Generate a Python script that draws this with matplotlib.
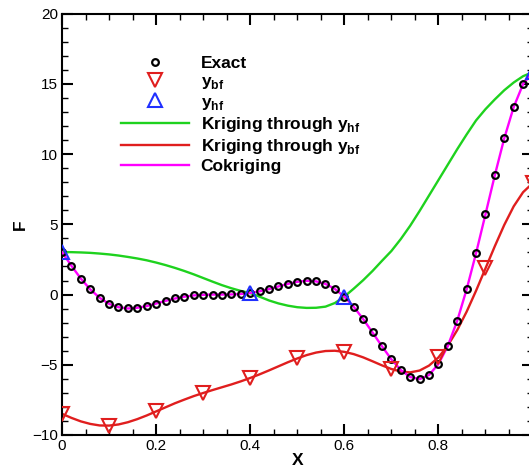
import matplotlib
matplotlib.use("Agg")
import matplotlib.pyplot as plt
from matplotlib.ticker import MultipleLocator

plt.rcParams['font.family'] = ['Liberation Sans', 'DejaVu Sans']
plt.rcParams['mathtext.fontset'] = 'custom'
plt.rcParams['mathtext.rm'] = 'Liberation Sans:bold'
plt.rcParams['mathtext.bf'] = 'Liberation Sans:bold'

# x grid used by the exact samples and the fitted curves
x_fine = [0.00, 0.02, 0.04, 0.06, 0.08, 0.10, 0.12, 0.14, 0.16, 0.18,
          0.20, 0.22, 0.24, 0.26, 0.28, 0.30, 0.32, 0.34, 0.36, 0.38,
          0.40, 0.42, 0.44, 0.46, 0.48, 0.50, 0.52, 0.54, 0.56, 0.58,
          0.60, 0.62, 0.64, 0.66, 0.68, 0.70, 0.72, 0.74, 0.76, 0.78,
          0.80, 0.82, 0.84, 0.86, 0.88, 0.90, 0.92, 0.94, 0.96, 0.98, 1.00]

# exact function (black circles)
f_exact = [3.03, 2.05, 1.14, 0.37, -0.23, -0.66, -0.90, -0.99, -0.94, -0.82,
           -0.64, -0.45, -0.28, -0.15, -0.06, -0.02, 0.00, 0.00, 0.01, 0.04,
           0.11, 0.23, 0.39, 0.58, 0.76, 0.91, 0.98, 0.94, 0.76, 0.40,
           -0.15, -0.87, -1.74, -2.70, -3.68, -4.61, -5.37, -5.87, -6.02, -5.73,
           -4.95, -3.66, -1.87, 0.37, 2.94, 5.71, 8.51, 11.13, 13.35, 14.99, 15.83]

# cokriging prediction (magenta)
f_cokrig = [3.03, 2.05, 1.14, 0.37, -0.23, -0.66, -0.90, -0.99, -0.94, -0.82,
            -0.64, -0.45, -0.28, -0.15, -0.06, -0.02, 0.00, 0.00, 0.01, 0.04,
            0.11, 0.23, 0.39, 0.58, 0.76, 0.91, 0.98, 0.94, 0.76, 0.40,
            -0.15, -0.87, -1.74, -2.70, -3.68, -4.61, -5.37, -5.87, -6.02, -5.73,
            -4.95, -3.66, -1.87, 0.37, 2.94, 5.71, 8.51, 11.13, 13.35, 14.99, 15.83]

# kriging through the low fidelity points (red)
f_krig_bf = [-8.49, -8.78, -9.03, -9.21, -9.32, -9.33, -9.25, -9.09, -8.87, -8.61,
             -8.32, -8.03, -7.74, -7.48, -7.23, -7.01, -6.80, -6.60, -6.40, -6.18,
             -5.94, -5.68, -5.40, -5.11, -4.82, -4.55, -4.31, -4.13, -4.02, -4.00,
             -4.08, -4.24, -4.47, -4.75, -5.04, -5.30, -5.48, -5.54, -5.41, -5.06,
             -4.48, -3.63, -2.53, -1.22, 0.27, 1.86, 3.45, 4.96, 6.28, 7.29, 7.92]

# kriging through the high fidelity points (green)
f_krig_hf = [3.03, 3.02, 3.00, 2.97, 2.92, 2.86, 2.78, 2.68, 2.57, 2.44,
             2.28, 2.10, 1.90, 1.68, 1.44, 1.18, 0.92, 0.67, 0.45, 0.26,
             0.11, -0.15, -0.42, -0.63, -0.79, -0.90, -0.95, -0.94, -0.86, -0.60,
             -0.15, 0.42, 1.02, 1.68, 2.40, 3.10, 3.95, 4.90, 5.95, 7.05,
             8.15, 9.25, 10.35, 11.40, 12.40, 13.20, 13.90, 14.55, 15.10, 15.55, 15.83]

# sample points
x_bf = [0.0, 0.1, 0.2, 0.3, 0.4, 0.5, 0.6, 0.7, 0.8, 0.9, 1.0]
y_bf = [-8.49, -9.33, -8.32, -7.01, -5.94, -4.55, -4.08, -5.30, -4.48, 1.86, 7.92]
x_hf = [0.0, 0.4, 0.6, 1.0]
y_hf = [3.03, 0.11, -0.15, 15.83]

fig = plt.figure(figsize=(5.29, 4.70), dpi=100)
ax = fig.add_axes([62 / 529, 35 / 470, 470.5 / 529, 421.3 / 470])

ax.plot(x_fine, f_krig_hf, color='#1ed21e', lw=1.7, zorder=2)
ax.plot(x_fine, f_krig_bf, color='#e01e1e', lw=1.7, zorder=2)
ax.plot(x_fine, f_cokrig, color='#ff00ff', lw=1.7, zorder=3)
ax.plot(x_fine, f_exact, 'o', ms=4.8, mfc='none', mec='black', mew=1.6, zorder=4)
ax.plot(x_bf, y_bf, 'v', ms=10, mfc='none', mec='#e01e1e', mew=1.5, zorder=5)
ax.plot(x_hf, y_hf, '^', ms=10, mfc='none', mec='#2030ff', mew=1.5, zorder=5)

# legend handles
h_exact, = ax.plot([], [], 'o', ms=4.8, mfc='none', mec='black', mew=1.6)
h_bf, = ax.plot([], [], 'v', ms=10, mfc='none', mec='#e01e1e', mew=1.5)
h_hf, = ax.plot([], [], '^', ms=10, mfc='none', mec='#2030ff', mew=1.5)
h_g, = ax.plot([], [], color='#1ed21e', lw=1.7)
h_r, = ax.plot([], [], color='#e01e1e', lw=1.7)
h_m, = ax.plot([], [], color='#ff00ff', lw=1.7)
labels = ['Exact', 'y$_\\mathregular{bf}$', 'y$_\\mathregular{hf}$',
          'Kriging through y$_\\mathregular{hf}$',
          'Kriging through y$_\\mathregular{bf}$', 'Cokriging']
ax.legend([h_exact, h_bf, h_hf, h_g, h_r, h_m], labels,
          loc='upper left', bbox_to_anchor=(0.125, 0.90), frameon=False,
          prop={'weight': 'bold', 'size': 12.5}, handlelength=3.9,
          handletextpad=0.7, labelspacing=0.18, borderpad=0, borderaxespad=0)

ax.set_xlim(0, 1)
ax.set_ylim(-10, 20)
ax.xaxis.set_major_locator(MultipleLocator(0.2))
ax.xaxis.set_minor_locator(MultipleLocator(0.05))
ax.yaxis.set_major_locator(MultipleLocator(5))
ax.yaxis.set_minor_locator(MultipleLocator(1))
ax.set_xticks([0, 0.2, 0.4, 0.6, 0.8])
ax.set_xticklabels(['0', '0.2', '0.4', '0.6', '0.8'])
ax.tick_params(which='both', direction='in', top=True, right=True, labelsize=11, pad=3)
ax.tick_params(which='major', length=8, width=1.5)
ax.tick_params(which='minor', length=4, width=1)
for s in ax.spines.values():
    s.set_linewidth(1.5)

ax.set_xlabel('X', fontsize=12.5, fontweight='bold', labelpad=0)
ax.set_ylabel('F', fontsize=12.5, fontweight='bold', labelpad=3)

fig.savefig('out.png', dpi=100)
